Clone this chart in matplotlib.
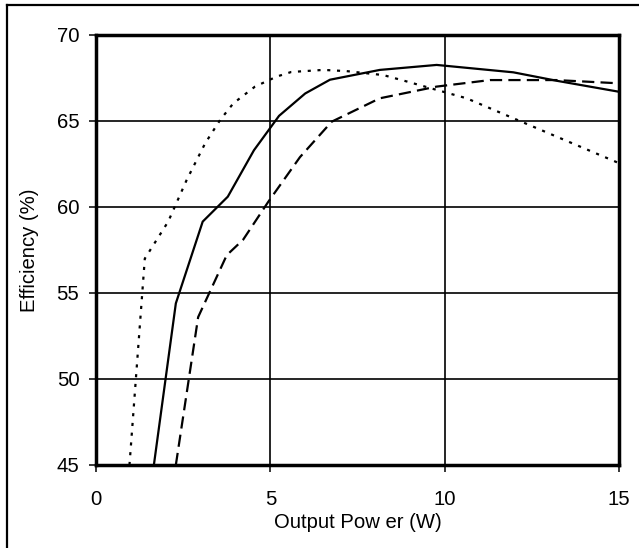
import matplotlib
matplotlib.use("Agg")
import matplotlib.pyplot as plt
from matplotlib.lines import Line2D

# datos
solido_x = [1.66, 2.29, 3.06, 3.78, 4.53, 5.25, 6.0, 6.71, 8.14, 9.77, 11.97, 13.21, 15.0]
solido_y = [45.0, 54.4, 59.15, 60.6, 63.3, 65.3, 66.6, 67.4, 67.97, 68.26, 67.83, 67.34, 66.7]

guion_x = [2.29, 2.93, 3.75, 4.22, 4.94, 5.85, 6.76, 8.14, 9.77, 11.3, 13.2, 15.0]
guion_y = [45.0, 53.6, 57.2, 58.1, 60.3, 62.9, 64.96, 66.32, 67.0, 67.38, 67.38, 67.19]

punto_x = [0.96, 1.4, 2.07, 2.6, 3.13, 3.56, 3.94, 4.56, 5.18, 5.6, 6.52, 7.19, 8.24, 8.91, 9.96, 10.63, 11.97, 15.0]
punto_y = [45.0, 57.0, 59.15, 61.57, 63.7, 65.06, 66.03, 67.0, 67.58, 67.85, 67.97, 67.9, 67.67, 67.3, 66.7, 66.32, 65.16, 62.55]

xticks = [0, 5, 10, 15]
yticks = [45, 50, 55, 60, 65, 70]

plt.rcParams['font.family'] = ['Liberation Sans', 'DejaVu Sans']

fig = plt.figure(figsize=(6.39, 5.48), dpi=100)
ax = fig.add_axes([96/639, 1 - 465/548, 523/639, 430/548])

ax.plot(punto_x, punto_y, color='black', lw=1.6, dashes=(1.4, 3))
ax.plot(solido_x, solido_y, color='black', lw=1.6)
ax.plot(guion_x, guion_y, color='black', lw=1.6, dashes=(5.5, 2.8))

ax.set_xlim(0, 15)
ax.set_ylim(45, 70)
ax.set_xticks(xticks)
ax.set_yticks(yticks)
ax.grid(True, color='black', lw=1.2)
ax.set_axisbelow(True)

for s in ax.spines.values():
    s.set_linewidth(2.5)
    s.set_zorder(5)

ax.tick_params(direction='out', length=5, width=1.1, labelsize=14.6, colors='black')
ax.tick_params(axis='x', pad=13)
ax.tick_params(axis='y', pad=7)

ax.set_xlabel("Output Pow er (W)", fontsize=14.6, labelpad=3)
ax.set_ylabel("Efficiency (%)", fontsize=14.6, labelpad=13)

# marco exterior (solo izquierda y arriba visibles)
fig.add_artist(Line2D([7/639, 7/639], [0, 1 - 5/548], color='black', lw=1.6))
fig.add_artist(Line2D([7/639, 1], [1 - 5/548, 1 - 5/548], color='black', lw=1.6))

fig.savefig("out.png", dpi=100)
